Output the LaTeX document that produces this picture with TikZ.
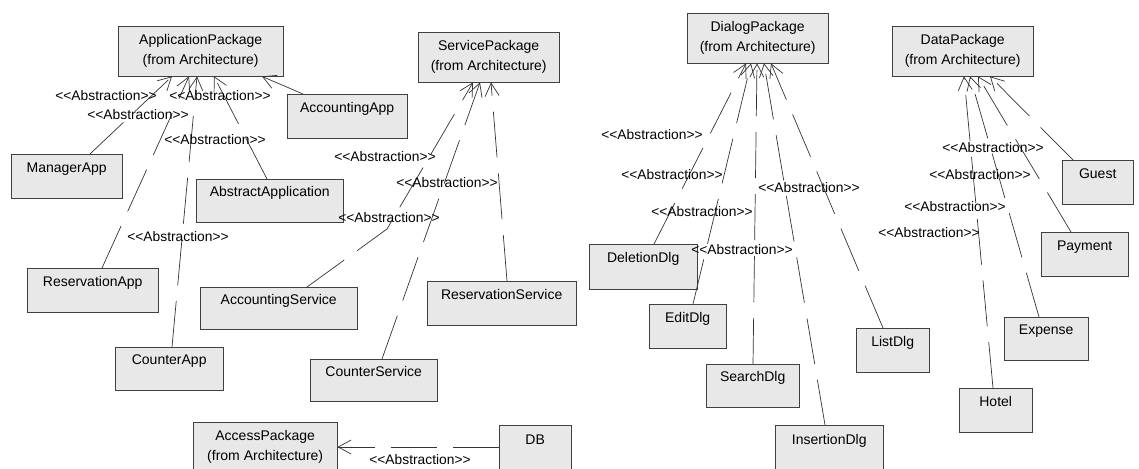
\documentclass[tikz,border=0pt]{standalone}
\usepackage{fontspec}
\setmainfont{Liberation Sans}[Ligatures=TeXOff]
\usetikzlibrary{arrows.meta,shadows}

\tikzset{
  umlbox/.style={rectangle,draw=black!75,fill=black!9,anchor=north west,
    align=center,inner sep=0pt,font=\fontsize{14}{20}\selectfont,
    drop shadow={shadow xshift=1.2pt,shadow yshift=-1.2pt,fill=black!60,opacity=1}},
  classbox/.style={umlbox,text height=10pt,text depth=18pt},
  dep/.style={draw=black!80,line width=0.7pt,dash pattern=on 46pt off 16pt,
    -{Straight Barb[length=13pt,width=14pt]}},
  abstr/.style={font=\fontsize{13.8}{16}\selectfont,inner sep=0pt}
}

\begin{document}
\begin{tikzpicture}[x=1pt,y=-1pt]
  \useasboundingbox (0,0) rectangle (1139,468);
  \clip (0,0) rectangle (1139,468);

  % packages
  \begin{scope}[every node/.style={umlbox}]
    \node[minimum width=165pt,minimum height=50pt] (apppkg) at (118,26) {ApplicationPackage\\(from Architecture)};
    \node[minimum width=141pt,minimum height=50pt] (svcpkg) at (418,32) {ServicePackage\\(from Architecture)};
    \node[minimum width=141pt,minimum height=50pt] (dlgpkg) at (687,13) {DialogPackage\\(from Architecture)};
    \node[minimum width=141pt,minimum height=50pt] (datapkg) at (892,26) {DataPackage\\(from Architecture)};
    \node[minimum width=144pt,minimum height=50pt] (accpkg) at (193,422) {AccessPackage\\(from Architecture)};
  \end{scope}

  % classes
  \begin{scope}[every node/.style={classbox}]
    \node[minimum width=111pt,minimum height=44pt] (mgrapp) at (11,154) {ManagerApp};
    \node[minimum width=120pt,minimum height=44pt] (accapp) at (287,94) {AccountingApp};
    \node[minimum width=147pt,minimum height=43pt] (absapp) at (196,179) {AbstractApplication};
    \node[minimum width=131pt,minimum height=44pt] (resapp) at (27,268) {ReservationApp};
    \node[minimum width=108pt,minimum height=43pt] (cntapp) at (115,347) {CounterApp};

    \node[minimum width=157pt,minimum height=42pt] (accsvc) at (200,287) {AccountingService};
    \node[minimum width=127pt,minimum height=42pt] (cntsvc) at (310,359) {CounterService};
    \node[minimum width=149pt,minimum height=44pt] (ressvc) at (427,281) {ReservationService};
    \node[minimum width=72pt,minimum height=46pt] (db) at (499,425) {DB};

    \node[minimum width=108pt,minimum height=45pt] (deldlg) at (589,244) {DeletionDlg};
    \node[minimum width=77pt,minimum height=44pt] (editdlg) at (649,304) {EditDlg};
    \node[minimum width=93pt,minimum height=43pt] (srchdlg) at (706,364) {SearchDlg};
    \node[minimum width=108pt,minimum height=46pt] (insdlg) at (775,425) {InsertionDlg};
    \node[minimum width=73pt,minimum height=44pt] (listdlg) at (856,328) {ListDlg};

    \node[minimum width=71pt,minimum height=44pt] (guest) at (1062,160) {Guest};
    \node[minimum width=87pt,minimum height=44pt] (payment) at (1041,232) {Payment};
    \node[minimum width=84pt,minimum height=43pt] (expense) at (1004,317) {Expense};
    \node[minimum width=73pt,minimum height=44pt] (hotel) at (959,388) {Hotel};
  \end{scope}

  % abstraction dependencies
  \begin{scope}[every edge/.style={dep}]
    \path ([xshift=79pt]mgrapp.north west) edge ([xshift=54pt]apppkg.south west);
    \path ([xshift=75pt]resapp.north west) edge ([xshift=71pt]apppkg.south west);
    \path ([xshift=57pt]cntapp.north west) edge ([xshift=79pt]apppkg.south west);
    \path ([xshift=71pt]absapp.north west) edge ([xshift=96pt]apppkg.south west);
    \path ([xshift=16pt]accapp.north west) edge ([xshift=144pt]apppkg.south west);

    \draw[dep] ([xshift=107pt]accsvc.north west) -- ++(80,-58) -- ([xshift=55pt]svcpkg.south west);
    \path ([xshift=72pt]cntsvc.north west) edge ([xshift=62pt]svcpkg.south west);
    \path ([xshift=80pt]ressvc.north west) edge ([xshift=73pt]svcpkg.south west);

    \path ([yshift=-22pt]db.north west) edge ([yshift=-25pt]accpkg.north east);

    \path ([xshift=65pt]deldlg.north west) edge ([xshift=59pt]dlgpkg.south west);
    \path ([xshift=44pt]editdlg.north west) edge ([xshift=64pt]dlgpkg.south west);
    \path ([xshift=47pt]srchdlg.north west) edge ([xshift=70pt]dlgpkg.south west);
    \path ([xshift=50pt]insdlg.north west) edge ([xshift=77pt]dlgpkg.south west);
    \path ([xshift=27pt]listdlg.north west) edge ([xshift=84pt]dlgpkg.south west);

    \path ([xshift=11pt]guest.north west) edge ([xshift=98pt]datapkg.south west);
    \path ([xshift=30pt]payment.north west) edge ([xshift=86pt]datapkg.south west);
    \path ([xshift=35pt]expense.north west) edge ([xshift=78pt]datapkg.south west);
    \path ([xshift=34pt]hotel.north west) edge ([xshift=72pt]datapkg.south west);
  \end{scope}

  % stereotype labels
  \begin{scope}[every node/.style={abstr}]
    \node (la1) at (106,96) {<<Abstraction>>};
    \node (la2) at (138,115) {<<Abstraction>>};
    \node (la3) at (220,96) {<<Abstraction>>};
    \node (la4) at (215,140) {<<Abstraction>>};
    \node (la5) at (178,237) {<<Abstraction>>};

    \node (ls1) at (385,157) {<<Abstraction>>};
    \node (ls2) at (447,183) {<<Abstraction>>};
    \node (ls3) at (389,218) {<<Abstraction>>};
    \node (lacc) at (420,460) {<<Abstraction>>};

    \node (ld1) at (652,135) {<<Abstraction>>};
    \node (ld2) at (672,175) {<<Abstraction>>};
    \node (ld3) at (702,212) {<<Abstraction>>};
    \node (ld4) at (809,188) {<<Abstraction>>};
    \node (ld5) at (742,250) {<<Abstraction>>};

    \node (lp1) at (993,148) {<<Abstraction>>};
    \node (lp2) at (980,175) {<<Abstraction>>};
    \node (lp3) at (955,207) {<<Abstraction>>};
    \node (lp4) at (929,233) {<<Abstraction>>};
  \end{scope}
\end{tikzpicture}
\end{document}
